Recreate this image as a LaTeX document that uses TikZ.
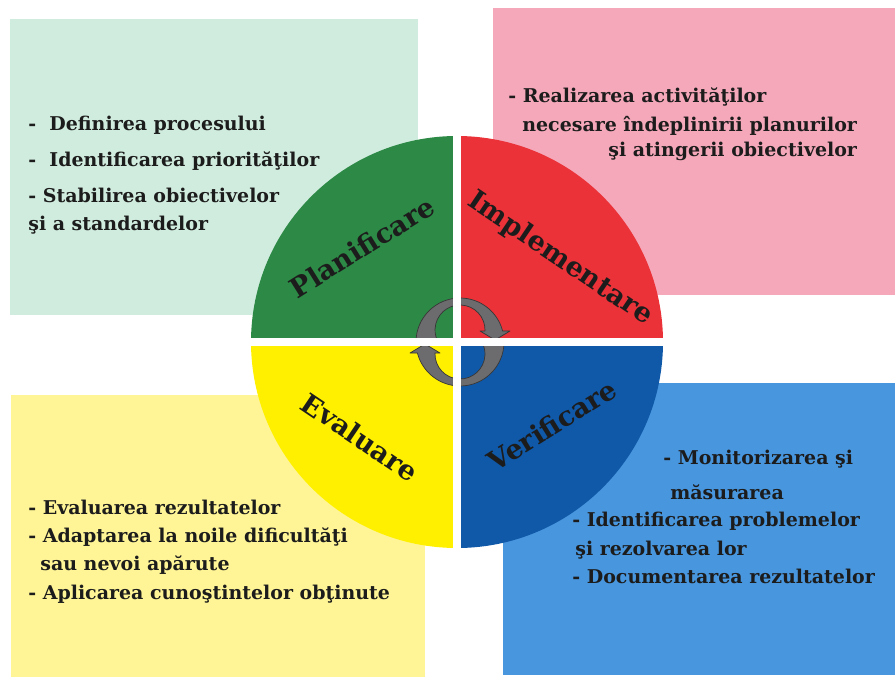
\documentclass[tikz,border=0pt]{standalone}
\usepackage{fontspec}
\setmainfont{DejaVu Serif}
\definecolor{plangreen}{RGB}{45,138,70}
\definecolor{implred}{RGB}{234,50,56}
\definecolor{evalyellow}{RGB}{255,240,0}
\definecolor{verifblue}{RGB}{16,88,168}
\definecolor{planbox}{RGB}{208,236,222}
\definecolor{implbox}{RGB}{245,168,186}
\definecolor{evalbox}{RGB}{255,245,150}
\definecolor{verifbox}{RGB}{72,150,222}
\definecolor{arrowgray}{RGB}{108,108,110}
\definecolor{arrowedge}{RGB}{55,55,55}
\definecolor{ink}{RGB}{28,28,28}
\begin{document}
\begin{tikzpicture}[x=0.02cm, y=0.02cm,
    qlabel/.style={font=\fontsize{15.5}{17}\selectfont\bfseries, text=ink, inner sep=0pt},
    boxtxt/.style={font=\fontsize{10.8}{16}\selectfont\bfseries, text=ink, align=left, inner sep=0pt, anchor=north west},
    cyclearrow/.style={fill=arrowgray, draw=arrowedge, line width=0.4pt, line join=round},
    gap/.style={draw=white, line width=0.16cm}]
  \useasboundingbox (0,0) rectangle (895,677);
  % coloured boxes behind the wheel
  \fill[planbox] (10,362) rectangle (418,658);
  \fill[implbox] (493,382) rectangle (895,669);
  \fill[evalbox] (11,0) rectangle (425,282);
  \fill[verifbox] (503,2) rectangle (895,294);
  % the wheel
  \coordinate (ctr) at (457,335);
  \fill[plangreen] (ctr) -- ++(-206,0) arc[start angle=180, end angle=90, radius=206] -- cycle;
  \fill[implred] (ctr) -- ++(0,206) arc[start angle=90, end angle=0, radius=206] -- cycle;
  \fill[verifblue] (ctr) -- ++(206,0) arc[start angle=0, end angle=-90, radius=206] -- cycle;
  \fill[evalyellow] (ctr) -- ++(0,-206) arc[start angle=270, end angle=180, radius=206] -- cycle;
  % cycle arrows in the middle
  \coordinate (hub) at (460,335);
  \foreach \turn in {0,180}
    \path[cyclearrow, shift={(hub)}, rotate=\turn]
      (-44,0) arc[start angle=180, end angle=14.5, radius=44]
      -- (50,11) -- (35,2) -- (20,11) -- (25,11)
      arc[start angle=-2.3, end angle=208.7, radius=25] -- cycle;
  \draw[gap] (ctr) -- ++(-212,0) (ctr) -- ++(212,0)
             (ctr) -- ++(0,212) (ctr) -- ++(0,-212);
  % quadrant labels
  \node[qlabel, rotate=32] (plan-lbl) at (362,430) {Planificare};
  \node[qlabel, rotate=-34] (impl-lbl) at (560,418) {Implementare};
  \node[qlabel, rotate=-34] (eval-lbl) at (360,240) {Evaluare};
  \node[qlabel, rotate=32] (verif-lbl) at (552,252) {Verificare};
  % box texts
  \node[boxtxt] (plan-txt) at (28,561)
    {-\ \ Definirea procesului\\[4.5pt]
     -\ \ Identificarea priorităţilor\\[4.5pt]
     - Stabilirea obiectivelor\\
     şi a standardelor};
  \node[boxtxt] (impl-txt) at (508,590)
    {- Realizarea activităţilor\\[1pt]
     \hspace*{0.28cm}necesare îndeplinirii planurilor\\[-2pt]
     \hspace*{\fill}şi atingerii obiectivelor};
  \node[boxtxt] (eval-txt) at (28,177)
    {- Evaluarea rezultatelor\\
     - Adaptarea la noile dificultăţi\\
     \hspace*{0.24cm}sau nevoi apărute\\
     - Aplicarea cunoştintelor obţinute};
  \node[boxtxt] (verif-txt) at (572,227)
    {\hspace*{1.82cm}- Monitorizarea şi\\[4pt]
     \hspace*{1.96cm}măsurarea\\[-0.6pt]
     - Identificarea problemelor\\
     \hspace*{0.06cm}şi rezolvarea lor\\
     - Documentarea rezultatelor};
\end{tikzpicture}
\end{document}
